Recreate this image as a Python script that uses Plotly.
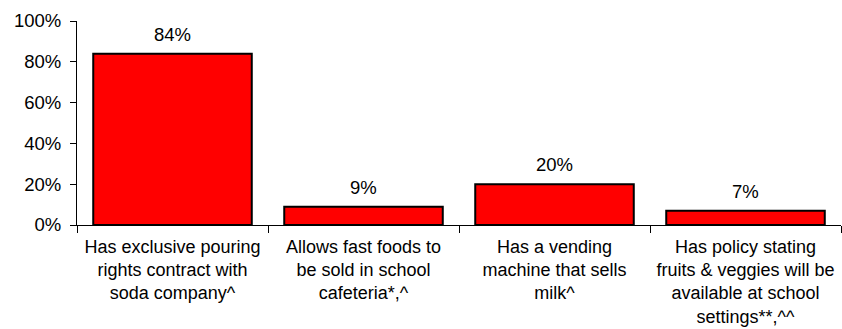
import plotly.graph_objects as go

categories = [
    "Has exclusive pouring<br>rights contract with<br>soda company^",
    "Allows fast foods to<br>be sold in school<br>cafeteria*,^",
    "Has a vending<br>machine that sells<br>milk^",
    "Has policy stating<br>fruits & veggies will be<br>available at school<br>settings**,^^",
]
values = [84, 9, 20, 7]
value_labels = ["84%", "9%", "20%", "7%"]
y_ticks = [0, 20, 40, 60, 80, 100]
y_tick_labels = ["0%", "20%", "40%", "60%", "80%", "100%"]

FONT = "Liberation Sans, Arial, sans-serif"

fig = go.Figure()
fig.add_trace(go.Bar(
    x=categories,
    y=values,
    marker=dict(color="#FF0000", line=dict(color="#000000", width=2)),
    width=0.83,
    hoverinfo="skip",
))

for c, v, t in zip(categories, values, value_labels):
    fig.add_annotation(
        x=c, y=v, text=t, showarrow=False,
        xanchor="center", yanchor="bottom", yshift=7,
        font=dict(family=FONT, size=18.5, color="#000000"),
    )

fig.update_layout(
    width=842, height=329,
    margin=dict(l=77, r=1, t=21, b=104),
    paper_bgcolor="white", plot_bgcolor="white",
    showlegend=False,
    font=dict(family=FONT, size=18.5, color="#000000"),
)
fig.update_xaxes(
    showline=True, linecolor="black", linewidth=1,
    ticks="outside", tickson="boundaries", ticklen=7, tickcolor="black",
    showgrid=False, zeroline=False, tickangle=0, automargin=False,
    ticklabelstandoff=5,
    tickfont=dict(family=FONT, size=18, color="#000000"),
)
fig.update_yaxes(
    range=[0, 100], tickvals=y_ticks, ticktext=y_tick_labels,
    showline=True, linecolor="black", linewidth=1,
    ticks="outside", ticklen=6, tickcolor="black",
    showgrid=False, zeroline=False, automargin=False,
    ticklabelstandoff=5,
    tickfont=dict(family=FONT, size=18.5, color="#000000"),
)

fig.write_html("out.html")
